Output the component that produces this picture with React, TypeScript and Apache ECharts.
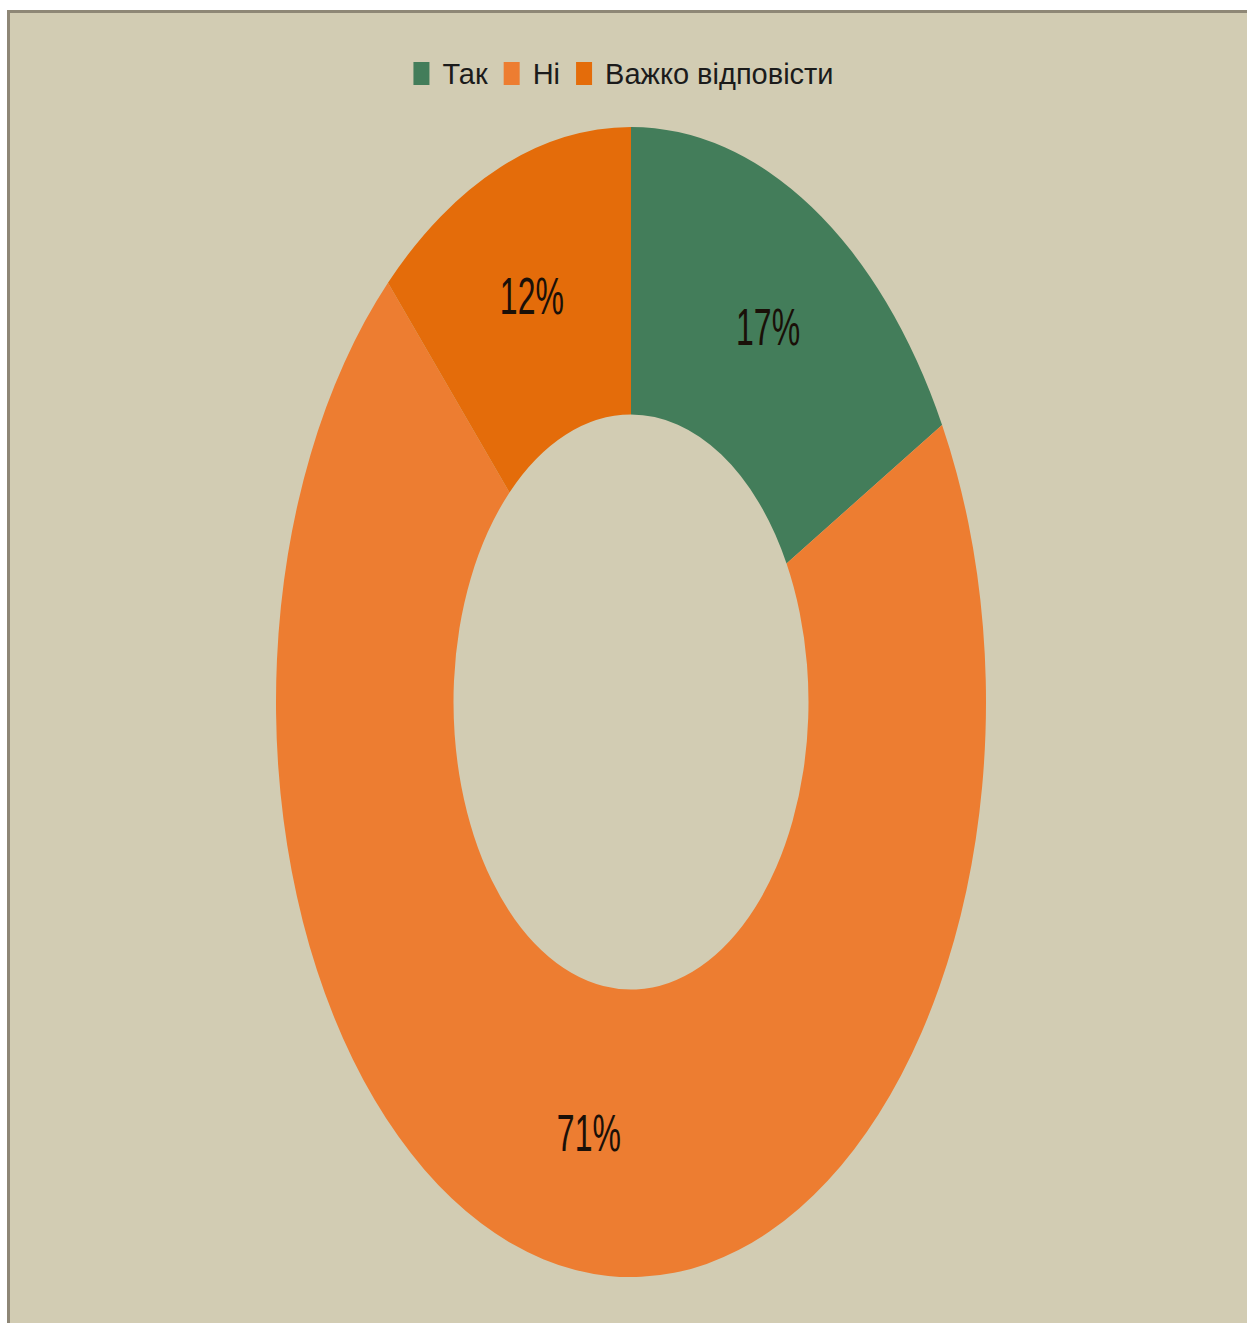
import React, { useEffect, useRef } from "react";
import * as echarts from "echarts";

const categories = ["Так", "Ні", "Важко відповісти"];
const values = [17, 71, 12];
const colors = ["#437d5a", "#ed7d31", "#e46c0a"];

const PAGE_W = 1247;
const PAGE_H = 1323;
const CX = 631;
const CY = 702;
const SY = 1.62;
const B_H = 800;

export default function App() {
  const legendRef = useRef<HTMLDivElement>(null);
  const pieRef = useRef<HTMLDivElement>(null);

  useEffect(() => {
    const a = echarts.init(legendRef.current!, undefined, { renderer: "svg" });
    const b = echarts.init(pieRef.current!, undefined, { renderer: "svg" });
    const data = categories.map((name, i) => ({
      name,
      value: values[i],
      itemStyle: { color: colors[i] },
    }));
    a.setOption({
      animation: false,
      backgroundColor: "transparent",
      legend: {
        top: 54,
        left: "center",
        icon: "rect",
        itemWidth: 16,
        itemHeight: 23,
        itemGap: 16,
        selectedMode: false,
        textStyle: {
          fontFamily: "'Liberation Sans Narrow', 'Liberation Sans', sans-serif",
          fontSize: 29,
          color: "#1b1b1b",
          padding: [0, 0, 0, 8],
        },
        data: categories,
      },
      series: [
        {
          type: "pie",
          radius: [0, 0],
          center: [CX, 2000],
          silent: true,
          label: { show: false },
          labelLine: { show: false },
          data,
        },
      ],
    });
    b.setOption({
      animation: false,
      backgroundColor: "transparent",
      series: [
        {
          type: "pie",
          radius: [177.5, 355],
          center: [CX, B_H / 2],
          startAngle: 90,
          clockwise: true,
          silent: true,
          itemStyle: { borderWidth: 0 },
          label: {
            show: true,
            position: "inside",
            formatter: "{c}%",
            fontFamily: "'Liberation Sans Narrow', 'Liberation Sans', sans-serif",
            fontSize: 32,
            color: "#1a1008",
          },
          labelLine: { show: false },
          data,
        },
      ],
    });
    return () => {
      a.dispose();
      b.dispose();
    };
  }, []);

  return (
    <div
      style={{
        position: "fixed",
        left: 0,
        top: 0,
        width: PAGE_W,
        height: PAGE_H,
        background: "#ffffff",
        overflow: "hidden",
      }}
    >
      <div
        style={{
          position: "absolute",
          left: 7,
          top: 10,
          width: PAGE_W + 20,
          height: PAGE_H + 20,
          background: "#d2ccb3",
          borderLeft: "3px solid #8e8776",
          borderTop: "3px solid #8e8776",
          boxSizing: "border-box",
        }}
      />
      <div
        ref={pieRef}
        style={{
          position: "absolute",
          left: 0,
          top: CY - B_H / 2,
          width: PAGE_W,
          height: B_H,
          transform: `scaleY(${SY})`,
          transformOrigin: "50% 50%",
        }}
      />
      <div
        ref={legendRef}
        style={{
          position: "absolute",
          left: 0,
          top: 0,
          width: PAGE_W,
          height: 130,
        }}
      />
    </div>
  );
}
